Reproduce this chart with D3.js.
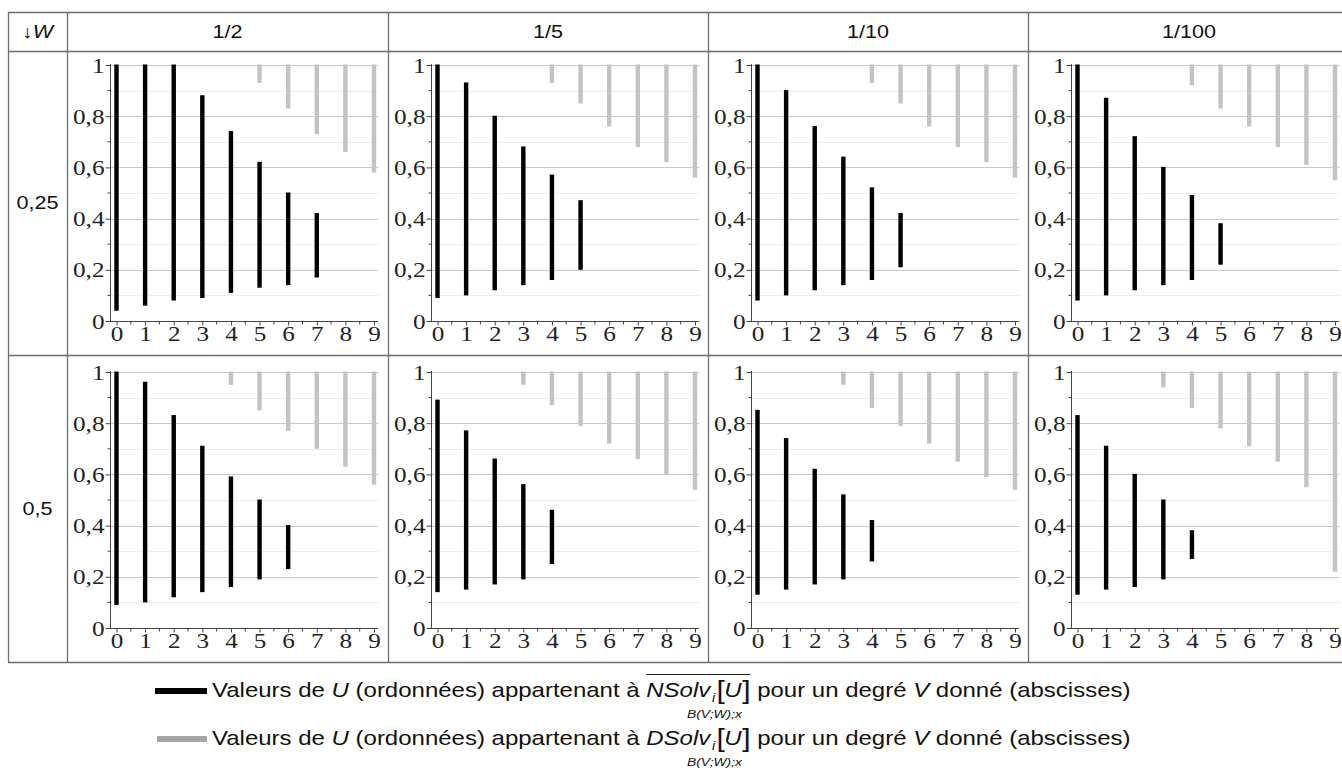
<!DOCTYPE html>
<html>
<head>
<meta charset="utf-8">
<script src="https://cdn.jsdelivr.net/npm/d3@7"></script>
<style>
  html, body { margin: 0; padding: 0; background: #fff; }
  svg { display: block; }
</style>
</head>
<body>
<svg id="chart" width="1342" height="784"></svg>
<script>
// ---------- data ----------
const columnLabels = ["1/2", "1/5", "1/10", "1/100"];
const rowLabels = ["0,25", "0,5"];
const xTickValues = [0, 1, 2, 3, 4, 5, 6, 7, 8, 9];
const yTickLabels = ["0", "0,2", "0,4", "0,6", "0,8", "1"];
const yTickValues = [0, 0.2, 0.4, 0.6, 0.8, 1];

// W = 0,25 : black bars (NSolv) low / high, grey bars (DSolv) low (high = 1)
const nsolvLow_025 = [
  [0.04, 0.06, 0.08, 0.09, 0.11, 0.13, 0.14, 0.17],
  [0.09, 0.10, 0.12, 0.14, 0.16, 0.20],
  [0.08, 0.10, 0.12, 0.14, 0.16, 0.21],
  [0.08, 0.10, 0.12, 0.14, 0.16, 0.22]
];
const nsolvHigh_025 = [
  [1, 1, 1, 0.88, 0.74, 0.62, 0.50, 0.42],
  [1, 0.93, 0.80, 0.68, 0.57, 0.47],
  [1, 0.90, 0.76, 0.64, 0.52, 0.42],
  [1, 0.87, 0.72, 0.60, 0.49, 0.38]
];
const dsolvLow_025 = [
  [null, null, null, null, null, 0.93, 0.83, 0.73, 0.66, 0.58],
  [null, null, null, null, 0.93, 0.85, 0.76, 0.68, 0.62, 0.56],
  [null, null, null, null, 0.93, 0.85, 0.76, 0.68, 0.62, 0.56],
  [null, null, null, null, 0.92, 0.83, 0.76, 0.68, 0.61, 0.55]
];
// W = 0,5
const nsolvLow_05 = [
  [0.09, 0.10, 0.12, 0.14, 0.16, 0.19, 0.23],
  [0.14, 0.15, 0.17, 0.19, 0.25],
  [0.13, 0.15, 0.17, 0.19, 0.26],
  [0.13, 0.15, 0.16, 0.19, 0.27]
];
const nsolvHigh_05 = [
  [1, 0.96, 0.83, 0.71, 0.59, 0.50, 0.40],
  [0.89, 0.77, 0.66, 0.56, 0.46],
  [0.85, 0.74, 0.62, 0.52, 0.42],
  [0.83, 0.71, 0.60, 0.50, 0.38]
];
const dsolvLow_05 = [
  [null, null, null, null, 0.95, 0.85, 0.77, 0.70, 0.63, 0.56],
  [null, null, null, 0.95, 0.87, 0.79, 0.72, 0.66, 0.60, 0.54],
  [null, null, null, 0.95, 0.86, 0.79, 0.72, 0.65, 0.59, 0.54],
  [null, null, null, 0.94, 0.86, 0.78, 0.71, 0.65, 0.55, 0.22]
];
const dsolvHigh = 1;

const rowsData = [
  { low: nsolvLow_025, high: nsolvHigh_025, grey: dsolvLow_025 },
  { low: nsolvLow_05, high: nsolvHigh_05, grey: dsolvLow_05 }
];

// ---------- layout ----------
const svg = d3.select("#chart");
const colEdges = [8, 67, 388, 708, 1028, 1350];
const rowEdges = [12, 51, 355, 662];
const borderColor = "#6e6e6e";
const serif = "'Liberation Serif', 'Times New Roman', serif";
const sans = "'Liberation Sans', Arial, sans-serif";
const SX = 1.2; // horizontal stretch of the lettering

function placeText(parent, x, y, size, family) {
  return parent.append("text")
    .attr("transform", `translate(${x},${y}) scale(${SX},1)`)
    .attr("font-family", family).attr("font-size", size).attr("fill", "#111");
}

// table grid
const tbl = svg.append("g");
colEdges.forEach(x => tbl.append("line")
  .attr("x1", x + 0.5).attr("x2", x + 0.5)
  .attr("y1", rowEdges[0]).attr("y2", rowEdges[3])
  .attr("stroke", borderColor).attr("stroke-width", 1.3));
rowEdges.forEach(y => tbl.append("line")
  .attr("x1", colEdges[0]).attr("x2", 1350)
  .attr("y1", y + 0.5).attr("y2", y + 0.5)
  .attr("stroke", borderColor).attr("stroke-width", 1.3));

// header
const headY = (rowEdges[0] + rowEdges[1]) / 2 + 6.5;
const corner = placeText(tbl, (colEdges[0] + colEdges[1]) / 2, headY, 18, sans).attr("text-anchor", "middle");
corner.append("tspan").text("↓");
corner.append("tspan").attr("font-style", "italic").text("W");

columnLabels.forEach((lab, i) => {
  placeText(tbl, (colEdges[i + 1] + colEdges[i + 2]) / 2, headY, 18, sans)
    .attr("text-anchor", "middle").text(lab);
});
rowLabels.forEach((lab, r) => {
  placeText(tbl, (colEdges[0] + colEdges[1]) / 2, (rowEdges[r + 1] + rowEdges[r + 2]) / 2 + 6, 18, sans)
    .attr("text-anchor", "middle").text(lab);
});

// panels
const minorY = d3.range(1, 11).map(d => d / 10);
const barW = 4.4;
rowsData.forEach((rd, r) => {
  const cellBottom = rowEdges[r + 2];
  const y0 = cellBottom - 34;
  const y = d3.scaleLinear().domain([0, 1]).range([y0, y0 - 256]);
  columnLabels.forEach((_, c) => {
    const cellLeft = colEdges[c + 1];
    const axisX = cellLeft + 43;
    const x = d3.scaleLinear().domain([0, 9]).range([axisX + 6.5, axisX + 264]);
    const rightEnd = x(9) + 4;
    const g = svg.append("g");

    // gridlines
    g.selectAll("line.grid").data(minorY).enter().append("line")
      .attr("x1", axisX).attr("x2", rightEnd)
      .attr("y1", d => Math.round(y(d)) + 0.5).attr("y2", d => Math.round(y(d)) + 0.5)
      .attr("stroke", (d, i) => (i % 2 === 1) ? "#c8c8c8" : "#ececec")
      .attr("stroke-width", 1);

    // grey bars (DSolv)
    const greyData = rd.grey[c].map((v, i) => ({ i, v })).filter(d => d.v !== null);
    g.selectAll("rect.grey").data(greyData).enter().append("rect")
      .attr("x", d => x(d.i) - barW / 2).attr("width", barW)
      .attr("y", y(dsolvHigh) - 0.5).attr("height", d => y(d.v) - y(dsolvHigh) + 0.5)
      .attr("fill", "#c3c3c3");

    // black bars (NSolv)
    const blackData = rd.low[c].map((v, i) => ({ i, lo: v, hi: rd.high[c][i] }));
    g.selectAll("rect.black").data(blackData).enter().append("rect")
      .attr("x", d => x(d.i) - barW / 2).attr("width", barW)
      .attr("y", d => y(d.hi) - 0.5).attr("height", d => y(d.lo) - y(d.hi) + 0.5)
      .attr("fill", "#000");

    // y axis
    const yAxis = d3.axisLeft(y).tickValues(yTickValues)
      .tickFormat((d, i) => yTickLabels[i]).tickSize(5).tickPadding(1);
    const ya = g.append("g").attr("transform", `translate(${axisX + 0.5},0)`).call(yAxis);
    ya.select(".domain").attr("stroke", "#444").attr("d", `M0,${y0}V${y(1) - 1}`);
    ya.selectAll(".tick line").attr("stroke", "#444");
    ya.selectAll(".tick text")
      .attr("x", null)
      .attr("transform", `translate(-6,0) scale(${SX},1)`)
      .attr("font-family", serif).attr("font-size", 21).attr("fill", "#222").attr("dy", "0.34em");
    // y minor ticks
    g.selectAll("line.ymin").data(minorY.filter((d, i) => i % 2 === 0)).enter().append("line")
      .attr("x1", axisX - 2.5).attr("x2", axisX)
      .attr("y1", d => y(d)).attr("y2", d => y(d)).attr("stroke", "#444");

    // x axis
    const xAxis = d3.axisBottom(x).tickValues(xTickValues).tickSize(4).tickPadding(1);
    const xa = g.append("g").attr("transform", `translate(0,${y0 + 0.5})`).call(xAxis);
    xa.select(".domain").attr("stroke", "#444").attr("d", `M${axisX},0H${rightEnd}`);
    xa.selectAll(".tick line").attr("stroke", "#444");
    xa.selectAll(".tick text").attr("transform", `scale(${SX},1)`)
      .attr("font-family", serif).attr("font-size", 21).attr("fill", "#222");
    // x minor ticks
    g.selectAll("line.xmin").data(d3.range(0, 9).map(d => d + 0.5)).enter().append("line")
      .attr("x1", d => x(d)).attr("x2", d => x(d))
      .attr("y1", y0 + 0.5).attr("y2", y0 + 3.5).attr("stroke", "#444");
  });
});

// ---------- legend ----------
const legendItems = [
  { prefix: "N", colour: "#000", baseline: 697, swatchX: 155 },
  { prefix: "D", colour: "#a6a6a6", baseline: 745, swatchX: 157 }
];
const legFont = 20;
legendItems.forEach(item => {
  svg.append("rect").attr("x", item.swatchX).attr("y", item.baseline - 9).attr("width", 207 - item.swatchX)
    .attr("height", 6).attr("fill", item.colour);
  const lg = svg.append("g").attr("transform", `translate(212,${item.baseline}) scale(${SX},1)`);
  let cx = 0;
  function piece(txt, opts = {}) {
    const t = lg.append("text").attr("x", cx).attr("y", opts.dy || 0)
      .attr("font-family", sans).attr("font-size", opts.size || legFont).attr("fill", "#111")
      .attr("font-style", opts.italic ? "italic" : "normal")
      .style("white-space", "pre")
      .text(txt);
    const w = t.node().getComputedTextLength();
    cx += w + (opts.after || 0);
    return t;
  }
  piece("Valeurs de ");
  piece("U", { italic: true });
  piece(" (ordonnées) appartenant à ");
  const startSym = cx;
  piece(item.prefix + "Solv", { italic: true, after: 1.5 });
  const subI = cx;
  piece("i", { italic: true, size: 12, dy: 5, after: 1 });
  piece("[", { size: 25, dy: 2, after: -0.5 });
  piece("U", { italic: true, after: 0.5 });
  piece("]", { size: 25, dy: 2 });
  const endSym = cx;
  if (item.prefix === "N") {
    lg.append("line").attr("x1", startSym).attr("x2", endSym)
      .attr("y1", -22.5).attr("y2", -22.5)
      .attr("stroke", "#222").attr("stroke-width", 1);
  }
  piece(" pour un degré ");
  piece("V", { italic: true });
  piece(" donné (abscisses)");
  lg.append("text").attr("x", subI + 2).attr("y", 21)
    .attr("text-anchor", "middle").attr("font-family", sans).attr("font-size", 11.5)
    .attr("font-style", "italic").attr("fill", "#111").text("B(V;W);x");
});
</script>
</body>
</html>
